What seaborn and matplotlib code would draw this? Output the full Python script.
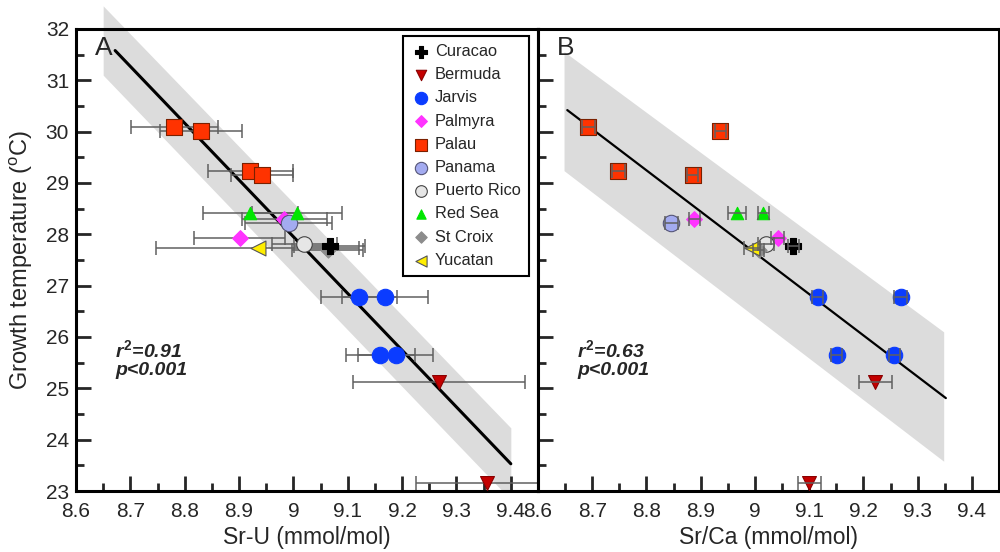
import numpy as np
import pandas as pd
import matplotlib
matplotlib.use("Agg")
import matplotlib.pyplot as plt
from matplotlib.ticker import MultipleLocator, FuncFormatter
import seaborn as sns

# coral growth temperature vs Sr-U and Sr/Ca
site = ["Palau", "Palau", "Palau", "Palau", "Red Sea", "Red Sea", "Palmyra", "Panama",
        "Palmyra", "Puerto Rico", "Curacao", "Yucatan", "St Croix",
        "Jarvis", "Jarvis", "Jarvis", "Jarvis", "Bermuda", "Bermuda"]
temp = [30.10, 30.02, 29.24, 29.16, 28.42, 28.42, 28.29, 28.22,
        27.92, 27.82, 27.77, 27.74, 27.69,
        26.77, 26.77, 25.65, 25.65, 25.12, 23.16]
sr_u = [8.781, 8.830, 8.921, 8.942, 8.921, 9.006, 8.983, 8.991,
        8.901, 9.020, 9.067, 8.934, 9.063,
        9.120, 9.168, 9.160, 9.188, 9.268, 9.356]
sr_u_err = [0.080, 0.076, 0.078, 0.057, 0.087, 0.083, 0.078, 0.080,
            0.083, 0.060, 0.065, 0.186, 0.065,
            0.070, 0.079, 0.063, 0.069, 0.159, 0.131]
sr_ca = [8.693, 8.936, 8.748, 8.885, 8.967, 9.015, 8.888, 8.846,
         9.042, 9.020, 9.071, 8.994, 9.007,
         9.116, 9.269, 9.151, 9.257, 9.222, 9.100]
sr_ca_err = [0.012, 0.010, 0.012, 0.010, 0.017, 0.010, 0.010, 0.012,
             0.012, 0.015, 0.010, 0.015, 0.010,
             0.010, 0.012, 0.010, 0.010, 0.031, 0.021]

# regression lines and prediction bands
fit_a_x = [8.672, 9.40]
fit_a_y = [31.58, 23.53]
band_a_x = [8.65, 9.40]
band_a_hi = [32.45, 24.23]
band_a_lo = [31.10, 22.83]
fit_b_x = [8.654, 9.352]
fit_b_y = [30.42, 24.81]
band_b_x = [8.648, 9.348]
band_b_hi = [31.56, 26.10]
band_b_lo = [29.24, 23.58]

legend_order = ["Curacao", "Bermuda", "Jarvis", "Palmyra", "Palau", "Panama",
                "Puerto Rico", "Red Sea", "St Croix", "Yucatan"]
colors = {"Curacao": "#000000", "Bermuda": "#c40000", "Jarvis": "#0b3cff",
          "Palmyra": "#ff33ff", "Palau": "#ff3300", "Panama": "#a3abf0",
          "Puerto Rico": "#e6e6e6", "Red Sea": "#00e600", "St Croix": "#8c8c8c",
          "Yucatan": "#ffee00"}
edges = {"Curacao": "#000000", "Bermuda": "#8a0000", "Jarvis": "#0b3cff",
         "Palmyra": "#ff33ff", "Palau": "#7a2000", "Panama": "#555577",
         "Puerto Rico": "#444444", "Red Sea": "#00e600", "St Croix": "#8c8c8c",
         "Yucatan": "#555555"}
markers = {"Curacao": "P", "Bermuda": "v", "Jarvis": "o", "Palmyra": "D", "Palau": "s",
           "Panama": "o", "Puerto Rico": "o", "Red Sea": "^", "St Croix": "D", "Yucatan": "<"}
sizes = {"Curacao": 120, "Bermuda": 100, "Jarvis": 140, "Palmyra": 64, "Palau": 128,
         "Panama": 140, "Puerto Rico": 125, "Red Sea": 80, "St Croix": 60, "Yucatan": 115}

df = pd.DataFrame({"site": site, "temp": temp, "sr_u": sr_u, "sr_u_err": sr_u_err,
                   "sr_ca": sr_ca, "sr_ca_err": sr_ca_err})

sns.set_style("ticks")
plt.rcParams["font.family"] = ["Liberation Sans", "DejaVu Sans"]
plt.rcParams["mathtext.fontset"] = "custom"
plt.rcParams["mathtext.rm"] = "Liberation Sans"
plt.rcParams["mathtext.it"] = "Liberation Sans:italic:bold"
plt.rcParams["mathtext.bf"] = "Liberation Sans:bold"

fig = plt.figure(figsize=(10, 5.52), dpi=100)
ax1 = fig.add_axes([0.076, 0.1105, 0.462, 0.837])
ax2 = fig.add_axes([0.538, 0.1105, 0.461, 0.837])

panels = [(ax1, "sr_u", "sr_u_err", fit_a_x, fit_a_y, band_a_x, band_a_lo, band_a_hi,
           "A", "0.91", "Sr-U (mmol/mol)", 2.2, 2),
          (ax2, "sr_ca", "sr_ca_err", fit_b_x, fit_b_y, band_b_x, band_b_lo, band_b_hi,
           "B", "0.63", "Sr/Ca (mmol/mol)", 1.6, 4)]

for ax, xcol, ecol, fx, fy, bx, blo, bhi, letter, r2, xlabel, lw, ez in panels:
    # grey prediction band (bottom stops at the x axis, top may run over the frame)
    xs = np.linspace(bx[0], bx[1], 200)
    lo = np.maximum(np.interp(xs, bx, blo), 23)
    hi = np.interp(xs, bx, bhi)
    ax.fill_between(xs, lo, hi, color="#dcdcdc", lw=0, zorder=0, clip_on=False)
    sns.lineplot(x=fx, y=fy, color="black", lw=lw, ax=ax, zorder=1.5)

    ax.errorbar(df[xcol], df["temp"], xerr=df[ecol], fmt="none", ecolor="#606060",
                elinewidth=1.1, capsize=5, capthick=1.1, zorder=ez, clip_on=False)

    for s in legend_order:
        sub = df[df["site"] == s]
        sns.scatterplot(data=sub, x=xcol, y="temp", marker=markers[s], s=sizes[s],
                        color=colors[s], edgecolor=edges[s], linewidth=0.8,
                        label=s, ax=ax, zorder=3.5 if s == "Curacao" else 3)

    ax.set_xlim(8.6, 9.45)
    ax.set_ylim(23, 32)
    ax.xaxis.set_major_locator(MultipleLocator(0.1))
    ax.xaxis.set_minor_locator(MultipleLocator(0.05))
    ax.yaxis.set_major_locator(MultipleLocator(1))
    ax.yaxis.set_minor_locator(MultipleLocator(0.5))
    ax.xaxis.set_major_formatter(FuncFormatter(lambda v, p: f"{v:g}"))
    ax.tick_params(which="major", direction="in", length=11, width=2, labelsize=15, pad=5)
    ax.tick_params(axis="x", which="major", pad=8)
    ax.tick_params(which="minor", direction="in", length=6, width=2)
    ax.tick_params(top=False, right=False, which="both")
    for sp in ax.spines.values():
        sp.set_linewidth(2.2)
        sp.set_color("black")
    ax.set_xlabel(xlabel, fontsize=16.5)
    ax.xaxis.set_label_coords(0.5, -0.075)
    ax.set_ylabel("")
    ax.text(0.04, 0.985, letter, transform=ax.transAxes, fontsize=19, ha="left", va="top")
    ax.text(0.085, 0.285, "$r^{\\mathbf{2}}$=" + r2 + "\np<0.001", transform=ax.transAxes,
            fontsize=14, fontweight="bold", fontstyle="italic", ha="left", va="center",
            linespacing=1.1)

ax2.tick_params(labelleft=False)
ax2.get_legend().remove()

ax1.set_ylabel("Growth temperature ($^{\\mathrm{o}}$C)", fontsize=17)
ax1.yaxis.set_label_coords(-0.088, 0.5)

leg = ax1.legend(loc="upper right", bbox_to_anchor=(0.98, 0.985), borderaxespad=0,
                 fontsize=11.8, markerscale=0.75, frameon=True, fancybox=False,
                 framealpha=1, edgecolor="black", handletextpad=0.25, labelspacing=0.5,
                 borderpad=0.5, handlelength=1.2)
leg.get_frame().set_linewidth(1.5)

fig.savefig("out.png", dpi=100)
